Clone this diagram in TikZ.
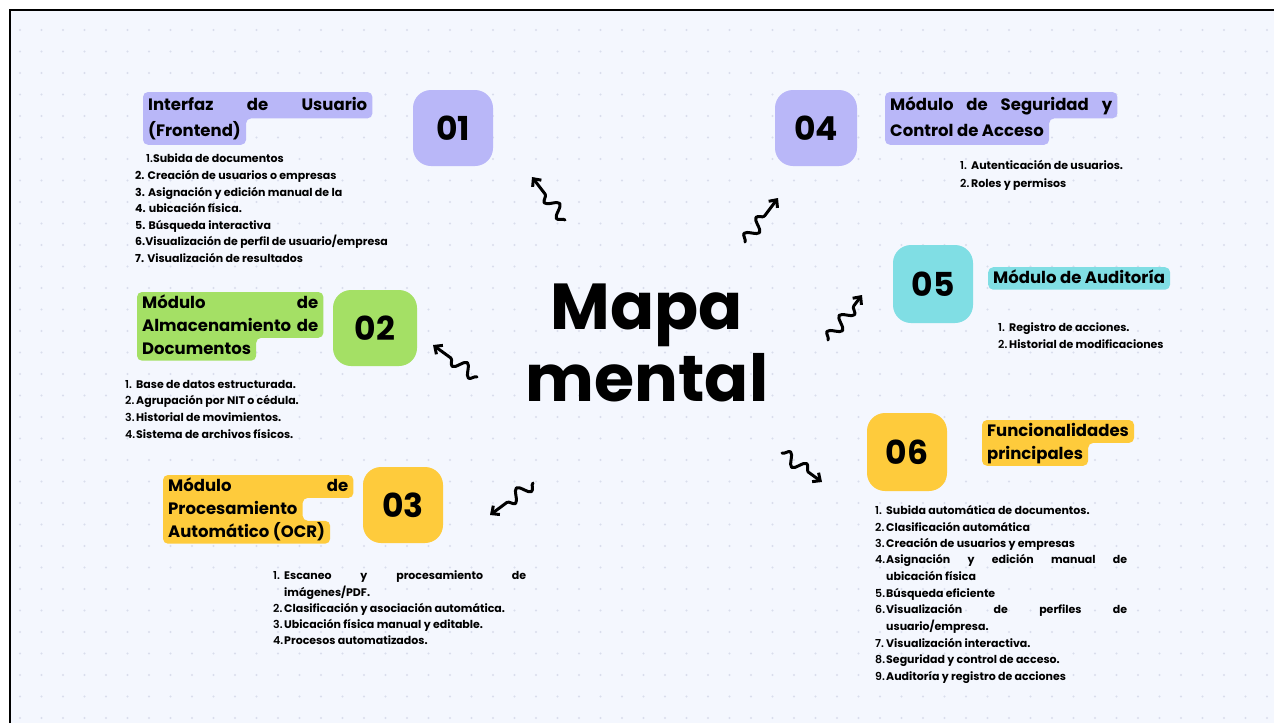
\documentclass[tikz,border=0pt]{standalone}
\usepackage{fontspec}
\setmainfont{Poppins}
\newfontfamily\lite{Poppins Light}
\usetikzlibrary{positioning,backgrounds,decorations.pathmorphing,arrows.meta}
\definecolor{bgcol}{HTML}{F4F7FE}
\definecolor{dotcol}{HTML}{D9DDEC}
\definecolor{lav}{HTML}{B9B7F8}
\definecolor{lime}{HTML}{A4E065}
\definecolor{sun}{HTML}{FECB3C}
\definecolor{aqua}{HTML}{80DEE4}
\newcommand{\nm}[1]{\makebox[11pt][l]{\lite #1}}
\begin{document}
\begin{tikzpicture}[x=1pt,y=-1pt,
  numbox/.style={rounded corners=18pt,minimum width=80pt,minimum height=76pt,inner sep=0pt,font=\fontsize{33}{33}\selectfont\bfseries},
  tagline/.style={anchor=north west,inner xsep=5pt,inner ysep=2pt,text height=14pt,text depth=4.5pt,font=\fontsize{16.5}{21}\selectfont\bfseries},
  tall/.style={inner ysep=3pt,text height=15pt,text depth=5pt},
  item/.style={anchor=base west,inner sep=0pt,font=\fontsize{11}{16}\selectfont\bfseries},
  squiggle/.style={line width=3pt,line cap=round,line join=round,decorate,
    decoration={snake,segment length=20pt,amplitude=6pt,post length=13pt},
    -{Straight Barb[length=6pt,width=11pt]}}]
\useasboundingbox (0,0) rectangle (1274,723);
\begin{scope}[on background layer]
\fill[white] (0,0) rectangle (1274,723);
\fill[bgcol] (10,10) rectangle (1274,723);
\foreach \x in {20,41.5,...,1274} % dot grid
  \foreach \y in {30,51.5,...,723}
    \fill[dotcol] (\x,\y) circle (1.1pt);
\draw[line width=2.2pt] (10,723) -- (10,10) -- (1274,10);
\end{scope}

% number boxes
\node[numbox,fill=lav] (n1) at (453,128) {01};
\node[numbox,fill=lime,minimum width=84pt] (n2) at (375,328) {02};
\node[numbox,fill=sun] (n3) at (403,505) {03};
\node[numbox,fill=lav,minimum width=82pt] (n4) at (816,128) {04};
\node[numbox,fill=aqua,minimum height=78pt] (n5) at (933,284) {05};
\node[numbox,fill=sun,minimum height=78pt] (n6) at (907,452) {06};

% titles
\node[tagline,tall] (a1) at (143,92) {\makebox[219pt][s]{Interfaz de Usuario}};
\node[tagline,tall] (a2) at (a1.south west) {(Frontend)};
\node[tagline] (b1) at (137,292) {\makebox[176pt][s]{Módulo de}};
\node[tagline] (b2) at (b1.south west) {\makebox[176pt][s]{Almacenamiento de}};
\node[tagline] (b3) at (b2.south west) {Documentos};
\node[tagline] (c1) at (163,475) {\makebox[180pt][s]{Módulo de}};
\node[tagline] (c2) at (c1.south west) {Procesamiento};
\node[tagline] (c3) at (c2.south west) {Automático (OCR)};
\node[tagline,tall] (e1) at (885,92) {\makebox[222pt][s]{Módulo de Seguridad y}};
\node[tagline,tall] (e2) at (e1.south west) {Control de Acceso};
\node[tagline,fill=aqua,rounded corners=5pt] (g1) at (988,267) {Módulo de Auditoría};
\node[tagline] (h1) at (982,420) {Funcionalidades};
\node[tagline] (h2) at (h1.south west) {principales};

\begin{scope}[on background layer,rounded corners=5pt]
\fill[lav] (a1.north west) -- (a1.north east) -- (a1.south east) -- (a2.north east)
  -- (a2.south east) -- (a2.south west) -- cycle;
\fill[lime] (b1.north west) -- (b1.north east) -- (b2.south east) -- (b3.north east)
  -- (b3.south east) -- (b3.south west) -- cycle;
\fill[sun] (c1.north west) -- (c1.north east) -- (c1.south east) -- (c2.north east)
  -- (c2.south east) -- (c3.north east) -- (c3.south east) -- (c3.south west) -- cycle;
\fill[lav] (e1.north west) -- (e1.north east) -- (e1.south east) -- (e2.north east)
  -- (e2.south east) -- (e2.south west) -- cycle;
\fill[sun] (h1.north west) -- (h1.north east) -- (h1.south east) -- (h2.north east)
  -- (h2.south east) -- (h2.south west) -- cycle;
\end{scope}

% center
\node[font=\fontsize{65}{72}\selectfont\bfseries,align=center,inner sep=0pt] (mm) at (647,343) {Mapa\\mental};

% lists
\node[item] (u1) at (146,162) {{\lite 1.}Subida de documentos};
\foreach \y/\t [count=\i from 2] in {179/{2. Creación de usuarios o empresas},196/{3. Asignación y edición manual de la},
  212/{4. ubicación física.},229/{5. Búsqueda interactiva},245/{6.Visualización de perfil de usuario/empresa},262/{7. Visualización de resultados}}
  \node[item] (u\i) at (135,\y) {\t};
\foreach \y/\t [count=\i] in {388/{Base de datos estructurada.},404/{Agrupación por NIT o cédula.},
  421/{Historial de movimientos.},438/{Sistema de archivos físicos.}}
  \node[item] (d\i) at (125,\y) {\nm{\i.}\t};
\node[item] (o1) at (273,579) {\nm{1.}\makebox[242pt][s]{Escaneo y procesamiento de}};
\foreach \y/\t [count=\i from 2] in {596/{\hspace*{11pt}imágenes/PDF.},612/{\nm{2.}Clasificación y asociación automática.},
  628/{\nm{3.}Ubicación física manual y editable.},644/{\nm{4.}Procesos automatizados.}}
  \node[item] (o\i) at (273,\y) {\t};
\foreach \y/\t [count=\i] in {169/{Autenticación de usuarios.},187/{Roles y permisos}}
  \node[item] (r\i) at (960,\y) {\nm{\i.}\t};
\foreach \y/\t [count=\i] in {331/{Registro de acciones.},348/{Historial de modificaciones}}
  \node[item] (k\i) at (998,\y) {\nm{\i.}\t};
\foreach \y/\t [count=\i] in {514/{\nm{1.}Subida automática de documentos.},531/{\nm{2.}Clasificación automática},
  547/{\nm{3.}Creación de usuarios y empresas},563/{\nm{4.}\makebox[241pt][s]{Asignación y edición manual de}},
  580/{\hspace*{11pt}ubicación física},597/{\nm{5.}Búsqueda eficiente},613/{\nm{6.}\makebox[241pt][s]{Visualización de perfiles de}},
  630/{\hspace*{11pt}usuario/empresa.},647/{\nm{7.}Visualización interactiva.},663/{\nm{8.}Seguridad y control de acceso.},
  680/{\nm{9.}Auditoría y registro de acciones}}
  \node[item] (f\i) at (875,\y) {\t};

% squiggly arrows
\coordinate (s1a) at (565,220); \coordinate (s1b) at (532,177);
\coordinate (s2a) at (477,377); \coordinate (s2b) at (433,345);
\coordinate (s3a) at (533,483); \coordinate (s3b) at (490,515);
\coordinate (s4a) at (745,242); \coordinate (s4b) at (778,198);
\coordinate (s5a) at (828,340); \coordinate (s5b) at (862,295);
\coordinate (s6a) at (782,453); \coordinate (s6b) at (822,482);
\foreach \i in {1,...,6}
  \draw[squiggle] (s\i a) -- (s\i b);
\end{tikzpicture}
\end{document}
